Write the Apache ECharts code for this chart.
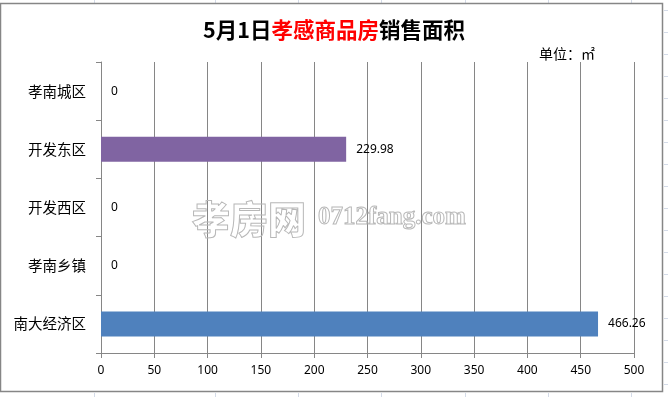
<!DOCTYPE html>
<html><head><meta charset="utf-8">
<script src="https://cdn.jsdelivr.net/npm/echarts@6/dist/echarts.min.js"></script>
<style>html,body{margin:0;padding:0;background:#fff}#c{width:668px;height:397px}</style>
</head><body><div id="c"></div>
<script>
const categories = ['孝南城区', '开发东区', '开发西区', '孝南乡镇', '南大经济区'];
const values = [0, 229.98, 0, 0, 466.26];
const barColors = ['#4F81BD', '#8064A2', '#4F81BD', '#4F81BD', '#4F81BD'];
const xTicks = [0, 50, 100, 150, 200, 250, 300, 350, 400, 450, 500];

const chart = echarts.init(document.getElementById('c'), null, {renderer: 'canvas'});
const cjk = '"Noto Sans CJK SC", "Noto Sans", sans-serif';
const grey = '#868686';
const cellLine = '#d4dbe8';

const gfx = [];
// spreadsheet cell lines outside the chart
[94, 215, 298, 381, 465, 548, 631].forEach(x => {
  gfx.push({type: 'line', shape: {x1: x + 0.5, y1: 0, x2: x + 0.5, y2: 3}, style: {stroke: cellLine, lineWidth: 1}, silent: true});
  gfx.push({type: 'line', shape: {x1: x + 0.5, y1: 393, x2: x + 0.5, y2: 397}, style: {stroke: cellLine, lineWidth: 1}, silent: true});
});
for (let y = 10; y < 397; y += 22) {
  gfx.push({type: 'line', shape: {x1: 664, y1: y + 0.5, x2: 668, y2: y + 0.5}, style: {stroke: cellLine, lineWidth: 1}, silent: true});
}
// chart border
gfx.push({type: 'rect', shape: {x: 0.5, y: 3.5, width: 662, height: 388}, style: {fill: 'none', stroke: grey, lineWidth: 1.5}, silent: true, z: 10});
// watermark
gfx.push({type: 'text', x: 192, y: 219, style: {text: '孝房网', font: '900 38px "Noto Sans CJK SC"', fill: 'rgba(255,255,255,0)', stroke: '#b8b8b8', lineWidth: 1, textVerticalAlign: 'middle'}, silent: true, z: 5});
gfx.push({type: 'text', x: 318, y: 218, style: {text: '0712fang.com', font: 'bold 25px "Liberation Serif"', fill: 'rgba(255,255,255,0)', stroke: '#b8b8b8', lineWidth: 1, textVerticalAlign: 'middle'}, silent: true, z: 5});

chart.setOption({
  backgroundColor: '#fff',
  animation: false,
  title: [{
    text: '{a|5月1日}{b|孝感商品房}{a|销售面积}',
    left: 'center', top: 14,
    textStyle: {
      rich: {
        a: {fontFamily: cjk, fontSize: 21.5, fontWeight: 'bold', color: '#000'},
        b: {fontFamily: cjk, fontSize: 21.5, fontWeight: 'bold', color: '#ff0000'}
      }
    }
  }, {
    text: '单位：㎡',
    left: 534, top: 42,
    textStyle: {fontFamily: cjk, fontSize: 14, fontWeight: 'normal', color: '#000'}
  }],
  grid: {left: 101, top: 62, right: 34, bottom: 44, containLabel: false},
  xAxis: {
    type: 'value', min: xTicks[0], max: xTicks[xTicks.length - 1], interval: 50,
    axisLine: {show: true, lineStyle: {color: grey, width: 1}},
    axisTick: {show: true, length: 5, lineStyle: {color: grey}},
    splitLine: {show: true, lineStyle: {color: grey, width: 1}},
    axisLabel: {color: '#000', fontFamily: '"Noto Sans", sans-serif', fontSize: 12, margin: 12}
  },
  yAxis: {
    type: 'category', data: categories, inverse: true,
    axisLine: {show: true, lineStyle: {color: grey, width: 1}},
    axisTick: {show: true, length: 5, lineStyle: {color: grey}},
    axisLabel: {color: '#000', fontFamily: cjk, fontSize: 14.5, margin: 15}
  },
  series: [{
    type: 'bar',
    data: values.map((v, i) => ({value: v, itemStyle: {color: barColors[i]}})),
    barWidth: 25,
    label: {show: true, position: 'right', distance: 10, color: '#000', fontFamily: '"Noto Sans", sans-serif', fontSize: 12},
    z: 3
  }],
  graphic: gfx
});
</script></body></html>
